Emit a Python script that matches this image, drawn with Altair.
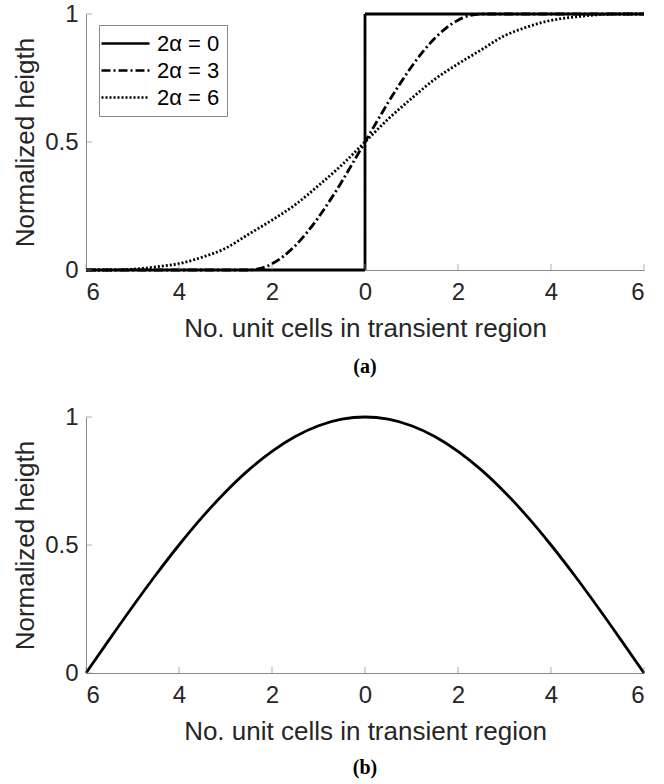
import altair as alt
import pandas as pd

# ---------------- data ----------------
series_names = ["2α = 0", "2α = 3", "2α = 6"]

x_step = [-6, 0, 0, 6]
y_step = [0, 0, 1, 1]

x_a3 = [-6, -2.5, -2.25, -2.0, -1.75, -1.5, -1.25, -1.0, -0.75, -0.5, -0.25, 0.0,
        0.25, 0.5, 0.75, 1.0, 1.25, 1.5, 1.75, 2.0, 2.25, 2.5, 6]
y_a3 = [0, 0, 0.006, 0.024, 0.054, 0.095, 0.146, 0.206, 0.273, 0.345, 0.422, 0.5,
        0.578, 0.655, 0.727, 0.794, 0.854, 0.905, 0.946, 0.976, 0.994, 1.0, 1.0]

x_a6 = [-6, -5.5, -5, -4.5, -4, -3.5, -3, -2.5, -2, -1.5, -1, -0.5, 0,
        0.5, 1, 1.5, 2, 2.5, 3, 3.5, 4, 4.5, 5, 5.5, 6]
y_a6 = [0.0, 0.0, 0.003, 0.012, 0.025, 0.05, 0.085, 0.14, 0.195, 0.255, 0.33, 0.41, 0.5,
        0.59, 0.67, 0.745, 0.805, 0.86, 0.915, 0.95, 0.975, 0.988, 0.997, 1.0, 1.0]

x_b = [-6, -5.5, -5, -4.5, -4, -3.5, -3, -2.5, -2, -1.5, -1, -0.5, 0,
       0.5, 1, 1.5, 2, 2.5, 3, 3.5, 4, 4.5, 5, 5.5, 6]
y_b = [0.0, 0.1305, 0.2588, 0.3827, 0.5, 0.6088, 0.7071, 0.7934, 0.866, 0.9239, 0.9659, 0.9914, 1.0,
       0.9914, 0.9659, 0.9239, 0.866, 0.7934, 0.7071, 0.6088, 0.5, 0.3827, 0.2588, 0.1305, 0.0]

x_ticks = [-6, -4, -2, 0, 2, 4, 6]
y_ticks = [0, 0.5, 1]

x_title = "No. unit cells in transient region"
y_title = "Normalized heigth"

# ---------------- frames ----------------
rows = []
for name, xs, ys in zip(series_names, [x_step, x_a3, x_a6], [y_step, y_a3, y_a6]):
    for i, (xv, yv) in enumerate(zip(xs, ys)):
        rows.append({"series": name, "x": xv, "y": yv, "idx": i})
df_a = pd.DataFrame(rows)
df_b = pd.DataFrame({"x": x_b, "y": y_b, "idx": list(range(len(x_b)))})
df_xt = pd.DataFrame({"x": x_ticks, "y": [0] * len(x_ticks)})
df_yt = pd.DataFrame({"y": y_ticks, "x": [-6] * len(y_ticks)})

AXIS_GREY = "#8c8c8c"
W, H = 558, 256

x_scale = alt.Scale(domain=[-6, 6], nice=False, zero=False)
y_scale = alt.Scale(domain=[0, 1], nice=False)

x_axis = alt.Axis(values=x_ticks, labelExpr="abs(datum.value)", title=x_title)
y_axis = alt.Axis(values=y_ticks, format="~g", title=y_title)


def tick_layers():
    xt = alt.Chart(df_xt).mark_tick(orient="vertical", size=6, thickness=1, color=AXIS_GREY,
                                    yOffset=-3).encode(
        x=alt.X("x:Q", scale=x_scale, axis=x_axis),
        y=alt.Y("y:Q", scale=y_scale, axis=y_axis),
    )
    yt = alt.Chart(df_yt).mark_tick(orient="horizontal", size=6, thickness=1, color=AXIS_GREY,
                                    xOffset=3).encode(
        x=alt.X("x:Q", scale=x_scale, axis=x_axis),
        y=alt.Y("y:Q", scale=y_scale, axis=y_axis),
    )
    return xt, yt


dash_scale = alt.Scale(domain=series_names, range=[[1, 0], [9, 3, 2, 3], [2, 2]])

lines_a = alt.Chart(df_a).mark_line(color="black", strokeWidth=2.8, interpolate="monotone", clip=False).encode(
    x=alt.X("x:Q", scale=x_scale, axis=x_axis),
    y=alt.Y("y:Q", scale=y_scale, axis=y_axis),
    strokeDash=alt.StrokeDash(
        "series:N", scale=dash_scale, sort=series_names,
        legend=alt.Legend(
            title=None, orient="none", legendX=13, legendY=11,
            symbolType="M-2.4,0H2.4", symbolSize=400, symbolStrokeWidth=2.5,
            symbolStrokeColor="black", symbolOffset=8, labelOffset=20,
            labelFont="Liberation Sans", labelFontSize=22, labelColor="black",
            strokeColor="#888888", fillColor="white", padding=7, rowPadding=4,
        ),
    ),
    order=alt.Order("idx:Q"),
)

xt_a, yt_a = tick_layers()
chart_a = alt.layer(lines_a, xt_a, yt_a).properties(
    width=W, height=H,
    title=alt.TitleParams("(a)", orient="bottom", font="Liberation Serif", fontWeight="bold",
                          fontSize=20, color="black", offset=16),
)

line_b = alt.Chart(df_b).mark_line(color="black", strokeWidth=2.8, interpolate="monotone").encode(
    x=alt.X("x:Q", scale=x_scale, axis=x_axis),
    y=alt.Y("y:Q", scale=y_scale, axis=y_axis),
    order=alt.Order("idx:Q"),
)
xt_b, yt_b = tick_layers()
chart_b = alt.layer(line_b, xt_b, yt_b).properties(
    width=W, height=H,
    title=alt.TitleParams("(b)", orient="bottom", font="Liberation Serif", fontWeight="bold",
                          fontSize=20, color="black", offset=14),
)

chart = alt.vconcat(chart_a, chart_b, spacing=28).properties(
    padding={"left": 12, "top": 2, "right": 6, "bottom": 2},
    background="white",
).configure_view(stroke=None).configure_axis(
    grid=False, ticks=False, tickSize=0,
    domainColor=AXIS_GREY, domainWidth=1,
    labelFont="Liberation Sans", labelFontSize=24, labelColor="#262626", labelPadding=10,
    titleFont="Liberation Sans", titleFontSize=26, titleFontWeight="normal", titleColor="#262626",
    titlePadding=11,
).configure_axisY(labelPadding=8, titlePadding=6)

chart.save("out.html", embed_options={"renderer": "svg", "actions": False})
